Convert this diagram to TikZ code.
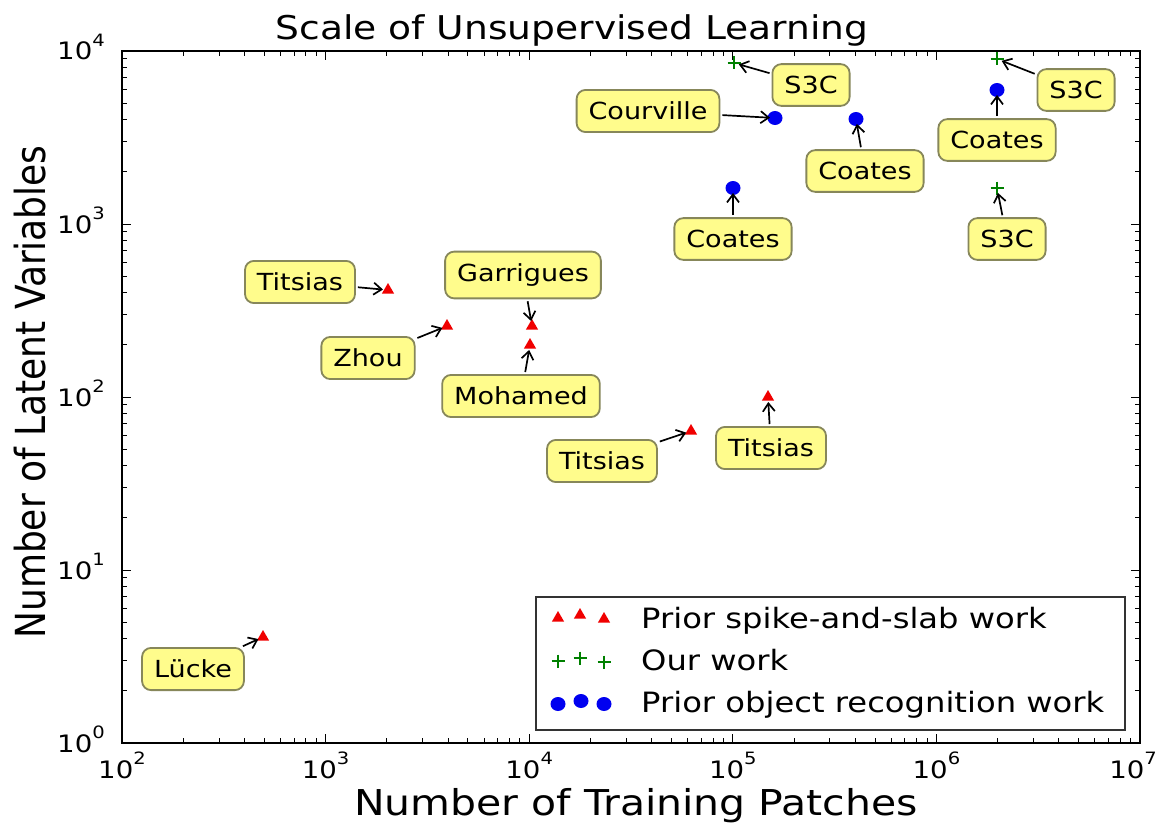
\documentclass[tikz,border=0pt]{standalone}
\usepackage{fontspec}
\setmainfont{DejaVu Sans}
\usetikzlibrary{arrows.meta,shapes.geometric}
\definecolor{lblfill}{RGB}{255,252,140}
\definecolor{lblborder}{RGB}{135,135,90}
\definecolor{mkred}{RGB}{240,0,0}
\definecolor{mkgreen}{RGB}{0,128,0}
\definecolor{mkblue}{RGB}{0,0,240}
\newcommand\hs[1]{\scalebox{1.15}[1]{#1}}
\newcommand\tkl[1]{\hs{10\raisebox{0.55em}{\fontsize{17}{17}\selectfont #1}}}
\begin{document}
\begin{tikzpicture}[x=1pt,y=-1pt,
  lbl/.style={draw=lblborder, fill=lblfill, rounded corners=9pt, line width=1.8pt,
    inner xsep=12pt, inner ysep=12pt, font=\fontsize{23.5}{27}\selectfont},
  tri/.style={regular polygon, regular polygon sides=3, minimum size=14pt, inner sep=0pt, fill=mkred},
  dotmk/.style={ellipse, minimum width=15pt, minimum height=14pt, inner sep=0pt, fill=mkblue},
  arr/.style={-{Straight Barb[length=8pt,width=12pt]}, line width=1.7pt, shorten >=5pt, shorten <=2pt},
  tk/.style={line width=1pt},
  plusmk/.pic={\draw[mkgreen,line width=1.8pt] (-6.5,0)--(6.5,0) (0,-6.5)--(0,6.5);}
]
\useasboundingbox (0,0) rectangle (1158,824);
\fill[white] (0,0) rectangle (1158,824);

% ticks
\foreach \d in {0,...,4}{\foreach \k in {2,...,9}{
  \pgfmathsetmacro\xx{122+(\d+log10(\k))*203.6}
  \draw[tk] (\xx,743) -- ++(0,-5) (\xx,51) -- ++(0,5);}}
\foreach \d in {1,...,4}{
  \pgfmathsetmacro\xx{122+\d*203.6}
  \draw[tk] (\xx,743) -- ++(0,-9) (\xx,51) -- ++(0,9);}
\foreach \d in {0,...,3}{\foreach \k in {2,...,9}{
  \pgfmathsetmacro\yy{743-(\d+log10(\k))*173}
  \draw[tk] (122,\yy) -- ++(5,0) (1140,\yy) -- ++(-5,0);}}
\foreach \d in {1,...,3}{
  \pgfmathsetmacro\yy{743-\d*173}
  \draw[tk] (122,\yy) -- ++(9,0) (1140,\yy) -- ++(-9,0);}

% tick labels
\foreach \d in {0,...,4}{
  \pgfmathsetmacro\xx{122+\d*203.6}
  \pgfmathtruncatemacro\ee{\d+2}
  \node[anchor=base, inner sep=0pt, font=\fontsize{24}{24}\selectfont] (xt\d) at (\xx,778) {\tkl{\ee}};}
\node[anchor=base east, inner sep=0pt, font=\fontsize{24}{24}\selectfont] (xt5) at (1157,778) {\tkl{7}};
\foreach \d in {0,...,4}{
  \pgfmathsetmacro\yy{743-\d*173+9}
  \node[anchor=base east, inner sep=0pt, font=\fontsize{24}{24}\selectfont] (yt\d) at (105,\yy) {\tkl{\d}};}

% axes frame
\draw[line width=2pt] (122,51) rectangle (1140,743);

% title and axis labels
\node[anchor=base, inner sep=0pt, font=\fontsize{32.7}{33}\selectfont] (title) at (572,40) {\hs{Scale of Unsupervised Learning}};
\node[anchor=base, inner sep=0pt, font=\fontsize{35.6}{36}\selectfont] (xlab) at (636,815) {\hs{Number of Training Patches}};
\node[anchor=base, inner sep=0pt, rotate=90, font=\fontsize{36}{36}\selectfont] (ylab) at (45,392) {\scalebox{1}[1.15]{Number of Latent Variables}};

% data points
\coordinate (pL) at (263,637);
\coordinate (pT1) at (388,290);
\coordinate (pZ) at (447,326);
\coordinate (pG) at (532,326);
\coordinate (pM) at (530,345);
\coordinate (pT2) at (691,431);
\coordinate (pT3) at (768,397);
\coordinate (pS1) at (734,63);
\coordinate (pCv) at (775,118);
\coordinate (pC1) at (856,119);
\coordinate (pC2) at (733,188);
\coordinate (pS2) at (997,59);
\coordinate (pC3) at (997,90);
\coordinate (pS3) at (997,188);

\foreach \p in {pL,pT1,pZ,pG,pM,pT2,pT3}{\node[tri] (m\p) at (\p) {};}
\foreach \p in {pCv,pC1,pC2,pC3}{\node[dotmk] (m\p) at (\p) {};}
\foreach \p in {pS1,pS2,pS3}{\pic at (\p) {plusmk};}

% labels
\node[lbl] (lL) at (193,669) {\hs{Lücke}};
\node[lbl] (lT1) at (300,282) {\hs{Titsias}};
\node[lbl] (lZ) at (368,358) {\hs{Zhou}};
\node[lbl] (lG) at (523,275) {\hs{Garrigues}};
\node[lbl] (lM) at (521,396) {\hs{Mohamed}};
\node[lbl] (lT2) at (602,461) {\hs{Titsias}};
\node[lbl] (lT3) at (771,448) {\hs{Titsias}};
\node[lbl] (lS1) at (811,85) {\hs{S3C}};
\node[lbl] (lCv) at (648,111) {\hs{Courville}};
\node[lbl] (lC1) at (865,171) {\hs{Coates}};
\node[lbl] (lC2) at (733,239) {\hs{Coates}};
\node[lbl] (lS2) at (1076,90) {\hs{S3C}};
\node[lbl] (lC3) at (997,140) {\hs{Coates}};
\node[lbl] (lS3) at (1007,239) {\hs{S3C}};

% arrows
\foreach \a/\b in {lL/pL,lT1/pT1,lZ/pZ,lG/pG,lM/pM,lT2/pT2,lT3/pT3,lS1/pS1,lCv/pCv,lC1/pC1,lC2/pC2,lS2/pS2,lC3/pC3,lS3/pS3}{
  \draw[arr] (\a) -- (\b);}

% legend
\node[draw=black!80, line width=1.5pt, fill=white, minimum width=589pt, minimum height=133pt,
  inner sep=0pt, anchor=north west] (legend) at (535,596) {};
\coordinate (g1a) at (558,618); \coordinate (g1b) at (580,615); \coordinate (g1c) at (604,619);
\coordinate (g2a) at (558,661); \coordinate (g2b) at (580,658); \coordinate (g2c) at (604,662);
\coordinate (g3a) at (558,704); \coordinate (g3b) at (581,701); \coordinate (g3c) at (604,704);
\foreach \p in {g1a,g1b,g1c}{\node[tri] (m\p) at (\p) {};}
\foreach \p in {g2a,g2b,g2c}{\pic at (\p) {plusmk};}
\foreach \p in {g3a,g3b,g3c}{\node[dotmk] (m\p) at (\p) {};}
\node[anchor=base west, inner sep=0pt, font=\fontsize{28}{28}\selectfont] (lg1) at (641,628) {\hs{Prior spike-and-slab work}};
\node[anchor=base west, inner sep=0pt, font=\fontsize{28}{28}\selectfont] (lg2) at (641,670) {\hs{Our work}};
\node[anchor=base west, inner sep=0pt, font=\fontsize{28}{28}\selectfont] (lg3) at (641,712) {\hs{Prior object recognition work}};
\end{tikzpicture}
\end{document}
